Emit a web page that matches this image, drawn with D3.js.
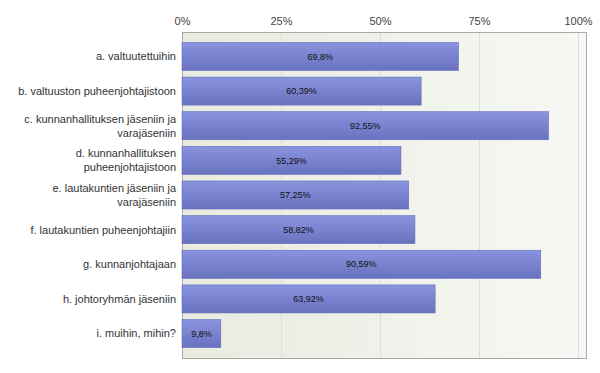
<!DOCTYPE html>
<meta charset="utf-8">
<script src="https://d3js.org/d3.v7.min.js"></script>
<style>
  body { margin: 0; background: #fff; }
  text { font-family: "Liberation Sans", Arial, sans-serif; }
</style>
<div id="chart"></div>
<script>

// data
var categories = [
  ["a. valtuutettuihin"],
  ["b. valtuuston puheenjohtajistoon"],
  ["c. kunnanhallituksen jäseniin ja", "varajäseniin"],
  ["d. kunnanhallituksen", "puheenjohtajistoon"],
  ["e. lautakuntien jäseniin ja", "varajäseniin"],
  ["f. lautakuntien puheenjohtajiin"],
  ["g. kunnanjohtajaan"],
  ["h. johtoryhmän jäseniin"],
  ["i. muihin, mihin?"]
];
var values = [69.8, 60.39, 92.55, 55.29, 57.25, 58.82, 90.59, 63.92, 9.8];
var valueLabels = ["69,8", "60,39", "92,55", "55,29", "57,25", "58,82", "90,59", "63,92", "9,8"];
var tickValues = [0, 25, 50, 75, 100];

// layout (note: "top" is a reserved window property, so use plot* names)
var width = 600, height = 373;
var plotLeft = 182, plotRight = 578, plotTop = 32, plotBottom = 358, frameRight = 586;

var svg = d3.select("#chart").append("svg")
  .attr("width", width)
  .attr("height", height);

var defs = svg.append("defs");

// background gradient of the plot area
var bg = defs.append("linearGradient").attr("id", "bg")
  .attr("x1", "0").attr("x2", "1").attr("y1", "0").attr("y2", "0");
bg.append("stop").attr("offset", "0%").attr("stop-color", "#e8ebdf");
bg.append("stop").attr("offset", "100%").attr("stop-color", "#f7f8f5");

// bar gradient
var bar = defs.append("linearGradient").attr("id", "bar")
  .attr("x1", "0").attr("x2", "0").attr("y1", "0").attr("y2", "1");
bar.append("stop").attr("offset", "0%").attr("stop-color", "#8993de");
bar.append("stop").attr("offset", "100%").attr("stop-color", "#6872bf");

var x = d3.scaleLinear()
  .domain([0, 100])
  .range([plotLeft, plotRight]);

var y = d3.scaleBand()
  .domain(d3.range(categories.length))
  .range([plotTop, plotBottom])
  .paddingInner(0.19)
  .paddingOuter(0.3);

// plot background
svg.append("rect")
  .attr("x", plotLeft).attr("y", plotTop)
  .attr("width", frameRight - plotLeft).attr("height", plotBottom - plotTop)
  .attr("fill", "url(#bg)");

// grid lines
svg.append("g")
  .selectAll("line")
  .data(tickValues.slice(1))
  .enter().append("line")
    .attr("x1", function(d) { return x(d) + 0.5; })
    .attr("x2", function(d) { return x(d) + 0.5; })
    .attr("y1", plotTop).attr("y2", plotBottom)
    .attr("stroke", "#dcdfd8");

// frame
svg.append("rect")
  .attr("x", plotLeft + 0.5).attr("y", plotTop + 0.5)
  .attr("width", frameRight - plotLeft).attr("height", plotBottom - plotTop)
  .attr("fill", "none")
  .attr("stroke", "#a8aaa6");

// top axis
var axis = svg.append("g")
  .attr("transform", "translate(0," + plotTop + ")")
  .call(d3.axisTop(x).tickValues(tickValues).tickSize(0).tickPadding(7)
    .tickFormat(function(d) { return d + "%"; }));
axis.select(".domain").remove();
axis.selectAll("text")
  .style("font-size", "11px")
  .style("font-family", "'Liberation Sans', Arial, sans-serif")
  .attr("fill", "#444");

// bars
svg.append("g")
  .selectAll("rect")
  .data(values)
  .enter().append("rect")
    .attr("x", x(0))
    .attr("y", function(d, i) { return y(i); })
    .attr("width", function(d) { return x(d) - x(0); })
    .attr("height", y.bandwidth())
    .attr("fill", "url(#bar)")
    .attr("stroke", "#6670b8")
    .attr("stroke-width", 0.6);

// value labels
svg.append("g")
  .selectAll("text")
  .data(values)
  .enter().append("text")
    .attr("x", function(d) { return (x(0) + x(d)) / 2; })
    .attr("y", function(d, i) { return y(i) + y.bandwidth() / 2; })
    .attr("dy", "0.35em")
    .attr("text-anchor", "middle")
    .style("font-size", "9px")
    .attr("fill", "#111")
    .text(function(d, i) { return valueLabels[i] + "%"; });

// category labels
var labels = svg.append("g")
  .selectAll("text")
  .data(categories)
  .enter().append("text")
    .attr("text-anchor", "end")
    .style("font-size", "11px")
    .attr("fill", "#333")
    .attr("transform", function(d, i) {
      return "translate(" + (plotLeft - 6) + "," + (y(i) + y.bandwidth() / 2) + ")";
    });

labels.selectAll("tspan")
  .data(function(d) { return d; })
  .enter().append("tspan")
    .attr("x", 0)
    .attr("y", function(d, j, nodes) {
      var n = nodes.length;
      return (j - (n - 1) / 2) * 14;
    })
    .attr("dy", "0.35em")
    .text(function(d) { return d; });

</script>
